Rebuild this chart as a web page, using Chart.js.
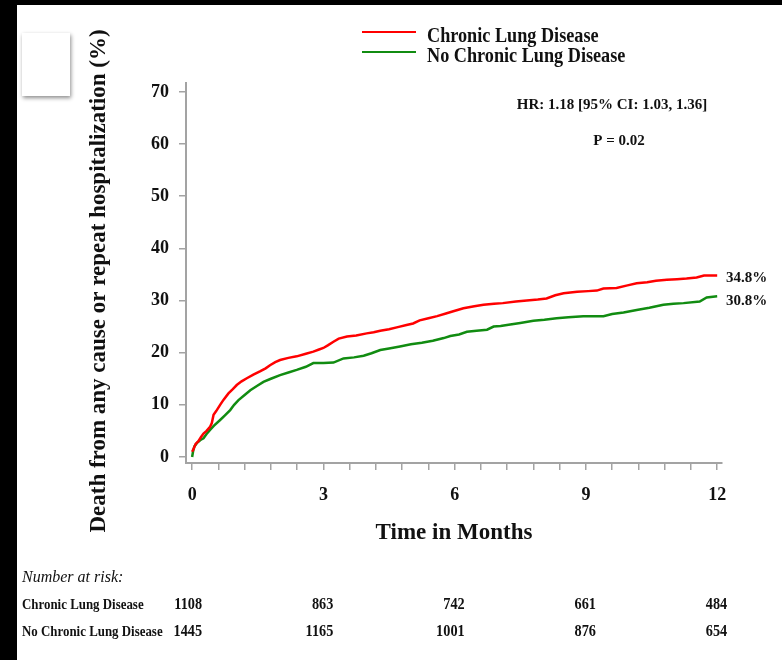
<!DOCTYPE html>
<html>
<head>
<meta charset="utf-8">
<script src="https://cdn.jsdelivr.net/npm/chart.js@4"></script>
<style>
html,body{margin:0;padding:0;background:#000;}
#wrap{position:absolute;left:0;top:0;width:782px;height:660px;}
</style>
</head>
<body>
<div id="wrap"><canvas id="c" width="782" height="660"></canvas></div>
<script>
// ---- data ----
const seriesNames = ['Chronic Lung Disease', 'No Chronic Lung Disease'];
const timesChronic = [0,0.03,0.08,0.14,0.2,0.26,0.33,0.41,0.45,0.49,0.55,0.64,0.72,0.83,0.93,1.02,1.13,1.25,1.4,1.55,1.68,1.78,1.9,2.01,2.2,2.39,2.6,2.77,2.9,3.0,3.1,3.23,3.35,3.54,3.75,3.99,4.15,4.3,4.5,4.7,4.9,5.05,5.2,5.4,5.6,5.8,5.95,6.2,6.45,6.66,6.9,7.1,7.4,7.65,7.9,8.1,8.3,8.49,8.8,9.05,9.25,9.4,9.7,9.95,10.16,10.4,10.6,10.85,11.08,11.3,11.53,11.7,12.0];
const valuesChronic = [1.0,1.5,2.5,3.0,3.8,4.5,5.0,5.8,6.5,8.1,8.8,10.0,11.0,12.2,13.0,13.8,14.5,15.1,15.8,16.4,17.0,17.6,18.2,18.6,19.0,19.3,19.8,20.2,20.6,20.9,21.4,22.1,22.7,23.1,23.3,23.7,23.9,24.2,24.5,24.9,25.3,25.6,26.2,26.6,27.0,27.5,27.9,28.5,28.9,29.2,29.4,29.5,29.8,30.0,30.2,30.4,31.0,31.4,31.7,31.8,31.9,32.3,32.4,32.9,33.3,33.5,33.8,34.0,34.1,34.2,34.4,34.8,34.8];
const timesNo = [0,0.02,0.05,0.12,0.2,0.26,0.33,0.41,0.5,0.64,0.75,0.87,0.96,1.06,1.2,1.33,1.48,1.63,1.8,2.01,2.2,2.39,2.6,2.77,3.0,3.23,3.46,3.7,3.92,4.1,4.3,4.5,4.75,5.0,5.25,5.5,5.75,5.9,6.1,6.28,6.5,6.74,6.89,7.05,7.27,7.5,7.8,8.05,8.33,8.6,8.94,9.4,9.6,9.86,10.16,10.45,10.77,11.0,11.23,11.6,11.76,12.0];
const valuesNo = [0,1.0,2.0,2.8,3.3,3.6,4.4,5.2,6.0,7.1,8.0,9.0,10.0,10.9,11.9,12.8,13.6,14.4,15.0,15.7,16.2,16.7,17.3,18.0,18.0,18.1,18.9,19.1,19.4,19.9,20.5,20.8,21.2,21.6,21.9,22.3,22.8,23.2,23.5,24.0,24.2,24.4,25.0,25.1,25.4,25.7,26.1,26.3,26.6,26.8,27.0,27.0,27.4,27.7,28.2,28.6,29.2,29.4,29.5,29.8,30.6,30.8];
const endLabels = ['34.8%', '30.8%'];
const xTickValues = [0,0.6,1.2,1.8,2.4,3,3.6,4.2,4.8,5.4,6,6.6,7.2,7.8,8.4,9,9.6,10.2,10.8,11.4,12];
const xTickLabels = [0,3,6,9,12];
const yTickValues = [0,10,20,30,40,50,60,70];
const riskTimes = [0,3,6,9,12];
const riskChronic = [1108,863,742,661,484];
const riskNo = [1445,1165,1001,876,654];
const hrText = 'HR: 1.18 [95% CI: 1.03, 1.36]';
const pText = 'P = 0.02';

// ---- styles ----
const SERIF = '"Liberation Serif", "Times New Roman", serif';
const RED = '#ff0000';
const GREEN = '#118c11';
const AXIS = '#a3a3a3';
const TXT = '#111111';

function pts(ts, vs){ return ts.map((t,i)=>({x:t, y:vs[i]})); }

function drawText(ctx, text, x, y, font, align, sx){
  ctx.save();
  ctx.font = font;
  ctx.fillStyle = TXT;
  ctx.textBaseline = 'middle';
  ctx.textAlign = align || 'left';
  ctx.translate(x, y);
  ctx.scale(sx || 1, 1);
  ctx.fillText(text, 0, 0);
  ctx.restore();
}

const bgPlugin = {
  id: 'bg',
  beforeDraw(chart){
    const c = chart.ctx;
    c.save();
    c.fillStyle = '#000';
    c.fillRect(0,0,chart.width,chart.height);
    c.fillStyle = '#fff';
    c.fillRect(17,5,chart.width-17,chart.height-5);
    c.shadowColor = 'rgba(0,0,0,0.45)';
    c.shadowBlur = 4;
    c.shadowOffsetX = 1;
    c.shadowOffsetY = 2;
    c.fillRect(22,33,48,63);
    c.restore();
  }
};

const annPlugin = {
  id: 'ann',
  afterDraw(chart){
    const c = chart.ctx;
    const xs = chart.scales.x, ys = chart.scales.y;
    // legend
    const cols = [RED, GREEN];
    const ly = [32, 52];
    c.save();
    c.lineWidth = 2;
    for (let i=0;i<2;i++){
      c.strokeStyle = cols[i];
      c.beginPath(); c.moveTo(362, ly[i]); c.lineTo(416, ly[i]); c.stroke();
      drawText(c, seriesNames[i], 427, ly[i]+5, 'bold 20px '+SERIF, 'left', 0.91);
    }
    c.restore();
    // HR and P
    drawText(c, hrText, 612, 105, 'bold 15px '+SERIF, 'center', 1);
    drawText(c, pText, 619, 141, 'bold 15px '+SERIF, 'center', 1);
    // end labels
    const lastC = valuesChronic[valuesChronic.length-1];
    const lastN = valuesNo[valuesNo.length-1];
    drawText(c, endLabels[0], 726, ys.getPixelForValue(lastC)+3, 'bold 15px '+SERIF, 'left', 1);
    drawText(c, endLabels[1], 726, ys.getPixelForValue(lastN)+5, 'bold 15px '+SERIF, 'left', 1);
    // y axis title
    c.save();
    c.translate(99, 281);
    c.rotate(-Math.PI/2);
    c.font = 'bold 23px '+SERIF;
    c.fillStyle = TXT;
    c.textAlign = 'center';
    c.textBaseline = 'middle';
    c.fillText('Death from any cause or repeat hospitalization (%)', 0, 0);
    c.restore();
    // number at risk
    drawText(c, 'Number at risk:', 22, 578, 'italic 16px '+SERIF, 'left', 1);
    drawText(c, seriesNames[0], 22, 605, 'bold 15px '+SERIF, 'left', 0.86);
    drawText(c, seriesNames[1], 22, 632, 'bold 15px '+SERIF, 'left', 0.86);
    riskTimes.forEach((t,i)=>{
      const px = xs.getPixelForValue(t) + 10;
      drawText(c, String(riskChronic[i]), px, 605, 'bold 17px '+SERIF, 'right', 0.84);
      drawText(c, String(riskNo[i]), px, 632, 'bold 17px '+SERIF, 'right', 0.84);
    });
  }
};

new Chart(document.getElementById('c'), {
  type: 'line',
  data: {
    datasets: [
      { label: seriesNames[0], data: pts(timesChronic, valuesChronic), borderColor: RED, backgroundColor: RED, borderWidth: 2.5, pointRadius: 0, tension: 0, fill: false },
      { label: seriesNames[1], data: pts(timesNo, valuesNo), borderColor: GREEN, backgroundColor: GREEN, borderWidth: 2.5, pointRadius: 0, tension: 0, fill: false }
    ]
  },
  options: {
    responsive: false,
    animation: false,
    layout: { padding: { left: 0, right: 60, top: 83, bottom: 0 } },
    plugins: { legend: { display: false }, tooltip: { enabled: false }, title: { display: false } },
    scales: {
      x: {
        type: 'linear',
        min: -0.14,
        max: 12.11,
        afterBuildTicks: s => { s.ticks = xTickValues.map(v => ({ value: v })); },
        afterFit: s => { s.height = 197; },
        ticks: {
          autoSkip: false, maxRotation: 0, padding: 15,
          color: TXT, font: { family: SERIF, size: 18, weight: 'bold' },
          callback: v => xTickLabels.some(l => Math.abs(l - v) < 1e-6) ? String(Math.round(v)) : ''
        },
        grid: { drawOnChartArea: false, drawTicks: true, tickLength: 7, color: AXIS, lineWidth: 1.5 },
        border: { display: true, color: AXIS, width: 2 },
        title: { display: true, text: 'Time in Months', color: TXT, font: { family: SERIF, size: 23, weight: 'bold' }, padding: { top: 0, bottom: 113 } }
      },
      y: {
        type: 'linear',
        min: -1.15,
        max: 71.7,
        afterBuildTicks: s => { s.ticks = yTickValues.map(v => ({ value: v })); },
        afterFit: s => { s.width = 186; },
        ticks: { autoSkip: false, padding: 10, color: TXT, font: { family: SERIF, size: 18, weight: 'bold' } },
        grid: { drawOnChartArea: false, drawTicks: true, tickLength: 7, color: AXIS, lineWidth: 1.5 },
        border: { display: true, color: AXIS, width: 2 }
      }
    }
  },
  plugins: [bgPlugin, annPlugin]
});
</script>
</body>
</html>
